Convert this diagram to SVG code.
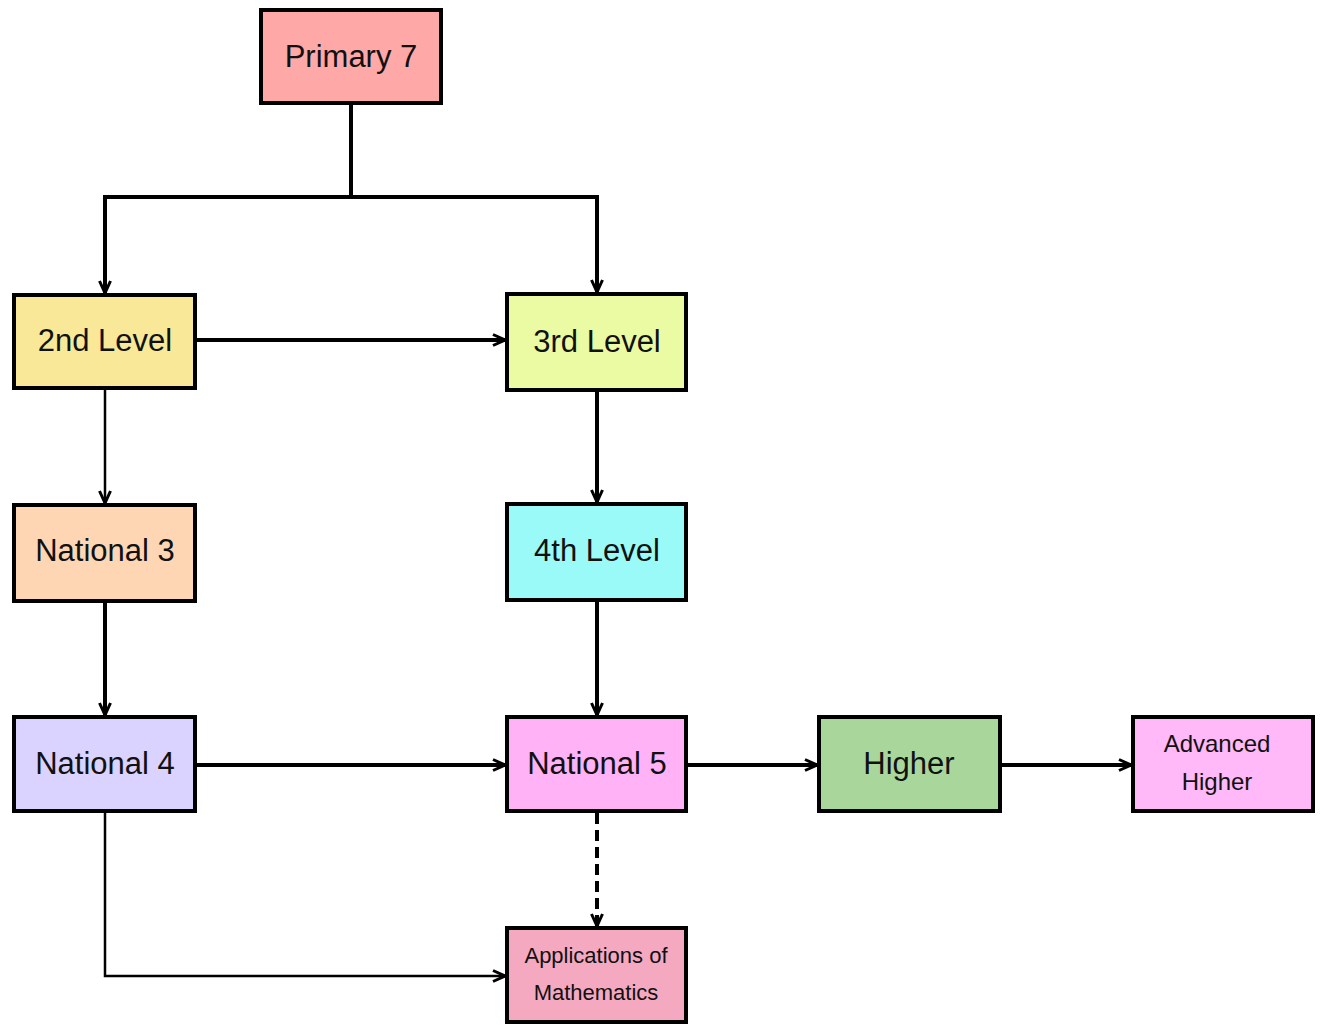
<svg xmlns="http://www.w3.org/2000/svg" width="1321" height="1025" viewBox="0 0 1321 1025">
<style>
.box{stroke:#000;stroke-width:4}
.lbl{font-family:"Liberation Sans",Arial,sans-serif;font-size:31px;fill:#111;text-anchor:middle;dominant-baseline:central}
.sm{font-size:24px}
.xs{font-size:22px}
.c{fill:none;stroke:#000;stroke-width:4}
.t{stroke-width:2.5}
.d{stroke-dasharray:11,6}
</style>
<defs>
<marker id="ah" viewBox="0 0 14 14" refX="13" refY="7" markerWidth="14" markerHeight="14" markerUnits="userSpaceOnUse" orient="auto">
<path d="M1,1.5 L13,7 L1,12.5" fill="none" stroke="#000" stroke-width="3"/>
</marker>
</defs>
<rect width="1321" height="1025" fill="#fff"/>
<g id="connectors">
<path class="c" d="M351,103 V197"/>
<path class="c" d="M351,197 H105 V293" marker-end="url(#ah)"/>
<path class="c" d="M351,197 H597 V292" marker-end="url(#ah)"/>
<path class="c" d="M195,340 H505" marker-end="url(#ah)"/>
<path class="c t" d="M105,388 V503" marker-end="url(#ah)"/>
<path class="c" d="M597,390 V502" marker-end="url(#ah)"/>
<path class="c" d="M105,601 V715" marker-end="url(#ah)"/>
<path class="c" d="M597,600 V715" marker-end="url(#ah)"/>
<path class="c" d="M195,765 H505" marker-end="url(#ah)"/>
<path class="c" d="M686,765 H817" marker-end="url(#ah)"/>
<path class="c" d="M1000,765 H1131" marker-end="url(#ah)"/>
<path class="c d" d="M597,813 V926" marker-end="url(#ah)"/>
<path class="c t" d="M105,811 V976 H505" marker-end="url(#ah)"/>
</g>
<g id="primary7"><rect class="box" x="261" y="10" width="180" height="93" fill="#FFA8A8"/><text class="lbl" x="351" y="56">Primary 7</text></g>
<g id="level2"><rect class="box" x="14" y="295" width="181" height="93" fill="#F9E898"/><text class="lbl" x="105" y="340">2nd Level</text></g>
<g id="level3"><rect class="box" x="507" y="294" width="179" height="96" fill="#EBFBA4"/><text class="lbl" x="597" y="341">3rd Level</text></g>
<g id="national3"><rect class="box" x="14" y="505" width="181" height="96" fill="#FFD6B4"/><text class="lbl" x="105" y="550">National 3</text></g>
<g id="level4"><rect class="box" x="507" y="504" width="179" height="96" fill="#9AFAF8"/><text class="lbl" x="597" y="550">4th Level</text></g>
<g id="national4"><rect class="box" x="14" y="717" width="181" height="94" fill="#DAD2FF"/><text class="lbl" x="105" y="763">National 4</text></g>
<g id="national5"><rect class="box" x="507" y="717" width="179" height="94" fill="#FFB3F6"/><text class="lbl" x="597" y="763">National 5</text></g>
<g id="higher"><rect class="box" x="819" y="717" width="181" height="94" fill="#A9D79B"/><text class="lbl" x="909" y="763">Higher</text></g>
<g id="advhigher"><rect class="box" x="1133" y="717" width="180" height="94" fill="#FFB8F8"/><text class="lbl sm" x="1217" y="743">Advanced</text><text class="lbl sm" x="1217" y="781">Higher</text></g>
<g id="applications"><rect class="box" x="507" y="928" width="179" height="94" fill="#F5A9C1"/><text class="lbl xs" x="596" y="955">Applications of</text><text class="lbl xs" x="596" y="992">Mathematics</text></g>
</svg>
